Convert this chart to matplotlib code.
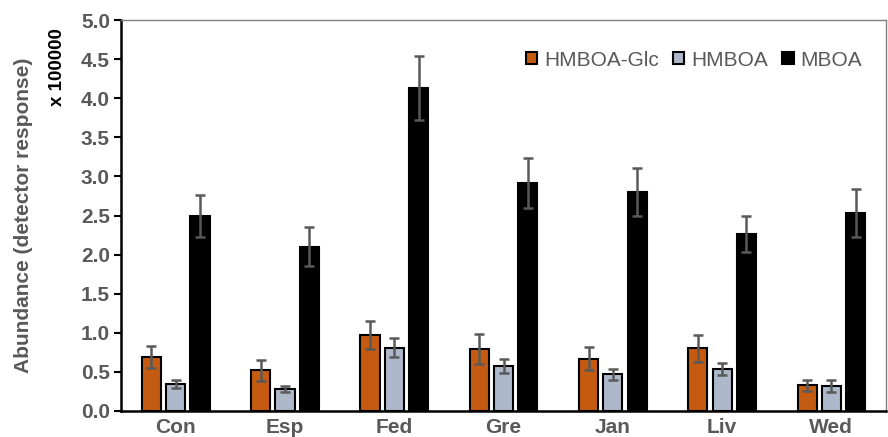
import numpy as np
import matplotlib
matplotlib.use("Agg")
import matplotlib.pyplot as plt

plt.rcParams['font.family'] = ['Liberation Sans', 'DejaVu Sans']

cultivars = ["Con", "Esp", "Fed", "Gre", "Jan", "Liv", "Wed"]
hmboa_glc = [0.69, 0.52, 0.97, 0.79, 0.67, 0.80, 0.33]
hmboa_glc_err = [0.14, 0.13, 0.18, 0.19, 0.15, 0.17, 0.07]
hmboa = [0.35, 0.28, 0.81, 0.57, 0.47, 0.54, 0.32]
hmboa_err = [0.05, 0.04, 0.12, 0.09, 0.07, 0.08, 0.08]
mboa = [2.49, 2.10, 4.13, 2.91, 2.80, 2.26, 2.53]
mboa_err = [0.27, 0.25, 0.41, 0.32, 0.31, 0.23, 0.31]

gray = "#595959"
fig = plt.figure(figsize=(8.88, 4.37), dpi=100)
ax = fig.add_axes([0.1363, 0.0595, 0.8615, 0.8947])

x = np.arange(len(cultivars))
w = 0.175
step = 0.222
series = [(hmboa_glc, hmboa_glc_err, "#C55A11", "HMBOA-Glc"),
          (hmboa, hmboa_err, "#ADB9CA", "HMBOA"),
          (mboa, mboa_err, "#000000", "MBOA")]
for i, (vals, errs, col, lab) in enumerate(series):
    ax.bar(x + (i - 1) * step, vals, w, color=col, edgecolor="black",
           linewidth=1.5, label=lab, zorder=2)
    ax.errorbar(x + (i - 1) * step, vals, yerr=errs, fmt="none",
                ecolor=gray, elinewidth=1.8, capsize=3.5, capthick=1.8, zorder=3)

ax.set_xlim(-0.5, 6.5)
ax.set_ylim(0, 5.0)
ax.set_yticks(np.arange(0, 5.01, 0.5))
ax.set_yticklabels([f"{v:.1f}" for v in np.arange(0, 5.01, 0.5)])
ax.set_xticks(x)
ax.set_xticklabels(cultivars)
for t in ax.get_xticklabels() + ax.get_yticklabels():
    t.set_fontweight("bold")
    t.set_color(gray)
    t.set_fontsize(15)
ax.tick_params(axis="x", length=0, pad=5)
ax.tick_params(axis="y", length=5, width=1.5, direction="out", pad=3)

ax.spines["left"].set_linewidth(1.8)
ax.spines["bottom"].set_linewidth(1.8)
ax.spines["top"].set_color("#7f7f7f")
ax.spines["right"].set_color("#7f7f7f")
ax.spines["top"].set_linewidth(1.0)
ax.spines["right"].set_linewidth(1.0)

ax.set_ylabel("Abundance (detector response)", fontsize=15, fontweight="bold",
              color=gray)
ax.yaxis.set_label_coords(-0.115, 0.5)
fig.text(0.0642, 0.936, "x 100000", rotation=90, ha="center", va="top",
         fontsize=13.5, fontweight="bold", color="black")

leg = ax.legend(loc="center right", ncol=3, frameon=False, fontsize=15,
                handlelength=0.55, handleheight=0.55, handletextpad=0.33,
                columnspacing=0.67, borderpad=0, borderaxespad=0,
                bbox_to_anchor=(0.9686, 0.8977))
for t in leg.get_texts():
    t.set_color(gray)

fig.savefig("out.png", dpi=100)
